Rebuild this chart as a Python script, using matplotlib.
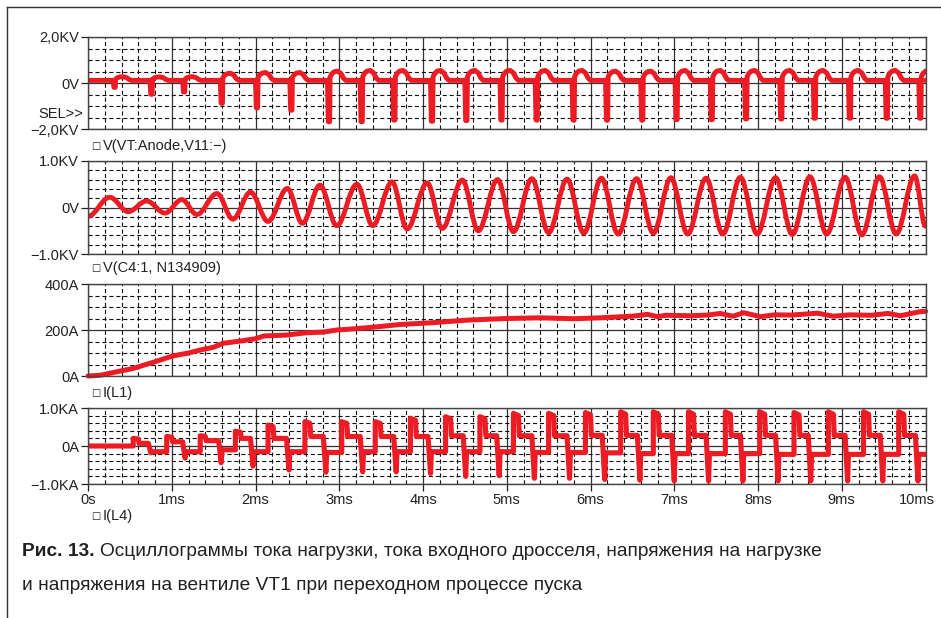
import numpy as np
import matplotlib.pyplot as plt
import matplotlib.transforms as mtransforms
from matplotlib.path import Path
from matplotlib.patches import PathPatch
from matplotlib.lines import Line2D

plt.rcParams['font.family'] = ['Liberation Sans', 'DejaVu Sans']
plt.rcParams['lines.scale_dashes'] = False

RED = '#ED1C24'
W, H = 941, 618

# time axis (ms)
ms_ticks = list(range(0, 11))
ms_labels = ['0s'] + ['%dms' % i for i in range(1, 11)]

# V(VT:Anode,V11:-) : spike times, spike depth, hump peak (KV)
spike_t = [0.30, 0.74, 1.13, 1.58, 2.00, 2.41, 2.86, 3.25, 3.64, 4.09, 4.50, 4.92,
           5.34, 5.78, 6.18, 6.60, 7.01, 7.43, 7.84, 8.26, 8.66, 9.08, 9.52, 9.92]
spike_v = [-0.18, -0.48, -0.38, -0.87, -1.07, -1.17, -1.67, -1.67, -1.6, -1.65, -1.62, -1.6,
           -1.6, -1.6, -1.6, -1.6, -1.58, -1.58, -1.55, -1.55, -1.52, -1.52, -1.52, -1.52]
hump_v = [0.28, 0.27, 0.28, 0.43, 0.46, 0.46, 0.52, 0.55, 0.55, 0.55, 0.55, 0.55,
          0.55, 0.55, 0.52, 0.52, 0.55, 0.55, 0.55, 0.55, 0.55, 0.55, 0.55, 0.55]
anode_base = 0.12

# V(C4:1, N134909) : extrema (ms, KV)
osc_t = [0.0, 0.26, 0.48, 0.70, 0.92, 1.12, 1.30, 1.54, 1.73, 1.94, 2.15, 2.38, 2.56,
         2.77, 2.97, 3.21, 3.40, 3.63, 3.81, 4.05, 4.23, 4.47, 4.66, 4.89, 5.08, 5.30,
         5.50, 5.72, 5.92, 6.13, 6.33, 6.55, 6.75, 6.96, 7.16, 7.38, 7.58, 7.79, 7.99,
         8.21, 8.41, 8.62, 8.82, 9.04, 9.24, 9.45, 9.65, 9.87, 10.0]
osc_v = [-0.19, 0.22, -0.09, 0.14, -0.12, 0.17, -0.15, 0.30, -0.25, 0.33, -0.30, 0.41, -0.34,
         0.48, -0.39, 0.50, -0.39, 0.55, -0.46, 0.53, -0.45, 0.59, -0.50, 0.60, -0.52, 0.62,
         -0.54, 0.61, -0.55, 0.63, -0.57, 0.62, -0.55, 0.64, -0.57, 0.63, -0.57, 0.65, -0.57,
         0.64, -0.58, 0.66, -0.57, 0.65, -0.59, 0.66, -0.57, 0.68, -0.40]

# I(L1) (ms, A)
il1_t = [0, 0.14, 0.3, 0.54, 0.8, 1.01, 1.2, 1.34, 1.5, 1.61, 1.82, 2.0, 2.1, 2.37, 2.61,
         2.81, 2.97, 3.1, 3.4, 3.73, 4.12, 4.53, 5.0, 5.4, 5.8, 6.12, 6.5, 6.68, 6.8, 6.9,
         7.2, 7.4, 7.55, 7.7, 7.83, 8.03, 8.2, 8.4, 8.71, 8.9, 9.1, 9.35, 9.55, 9.7, 9.94, 10.0]
il1_v = [0, 3, 15, 33, 62, 87, 100, 113, 125, 142, 152, 162, 174, 178, 188,
         191, 200, 203, 212, 224, 232, 243, 250, 253, 249, 253, 260, 268, 258, 264,
         262, 265, 272, 260, 275, 258, 266, 265, 273, 260, 266, 264, 272, 262, 280, 281]

# I(L4) : per cycle (ms, KA)
up_t = [0.54, 0.94, 1.34, 1.76, 2.15, 2.59, 3.03, 3.43, 3.85, 4.27, 4.68, 5.08,
        5.50, 5.94, 6.36, 6.75, 7.17, 7.61, 8.02, 8.43, 8.84, 9.26, 9.68]
down_t = [0.72, 1.13, 1.56, 1.94, 2.37, 2.81, 3.25, 3.65, 4.06, 4.48, 4.88, 5.30,
          5.72, 6.14, 6.56, 6.97, 7.38, 7.79, 8.21, 8.60, 9.04, 9.46, 9.88]
up_v = [0.2, 0.25, 0.27, 0.39, 0.55, 0.64, 0.64, 0.64, 0.73, 0.77, 0.77, 0.86,
        0.86, 0.88, 0.9, 0.9, 0.9, 0.9, 0.9, 0.88, 0.9, 0.9, 0.9]
high_v = [0.07, 0.11, 0.14, 0.2, 0.2, 0.25, 0.25, 0.25, 0.25, 0.27, 0.27, 0.27,
          0.27, 0.28, 0.28, 0.28, 0.28, 0.28, 0.28, 0.28, 0.28, 0.28, 0.28]
down_v = [-0.18, -0.32, -0.44, -0.53, -0.63, -0.69, -0.68, -0.68, -0.72, -0.8, -0.78, -0.85,
          -0.85, -0.88, -0.9, -0.92, -0.92, -0.92, -0.92, -0.92, -0.92, -0.92, -0.92]
low_v = [-0.15, -0.15, -0.1, -0.15, -0.15, -0.17, -0.15, -0.15, -0.15, -0.15, -0.15, -0.17,
         -0.17, -0.18, -0.2, -0.2, -0.2, -0.2, -0.22, -0.22, -0.22, -0.22, -0.22]

trace_names = ['V(VT:Anode,V11:\u2212)', 'V(C4:1, N134909)', 'I(L1)', 'I(L4)']


def px(x, y):
    return x / W, 1 - y / H


def make_ax(top, bottom, ylim, yticks, ylabels, yminor):
    l, b = px(88, bottom)
    ax = fig.add_axes([l, b, (925.5 - 88) / W, (bottom - top) / H])
    ax.set_xlim(0, 10)
    ax.set_ylim(*ylim)
    ax.set_xticks(ms_ticks)
    ax.set_xticks(np.arange(0, 10.01, 0.2), minor=True)
    ax.set_yticks(yticks)
    ax.set_yticklabels(ylabels)
    ax.set_yticks(yminor, minor=True)
    ax.grid(which='major', color='#333333', lw=0.9, ls='-')
    ax.grid(which='minor', color='#111111', lw=0.8, ls=(0, (3, 2)))
    ax.tick_params(which='minor', length=0)
    ax.tick_params(axis='y', which='major', length=5, width=0.9, pad=1.5,
                   labelsize=10.5, colors='#222222')
    ax.tick_params(axis='x', which='major', length=0, labelbottom=False)
    for s in ax.spines.values():
        s.set_color('#444444')
        s.set_linewidth(1.0)
    ax.set_axisbelow(True)
    return ax


fig = plt.figure(figsize=(W / 100, H / 100), dpi=100)

# panel 1
ax1 = make_ax(37, 129.3, (-2, 2), [-2, 0, 2], ['\u22122,0KV', '0V', '2,0KV'],
              np.arange(-2, 2.01, 0.5))
offs = [0.03, 0.05, 0.08, 0.12, 0.16, 0.19, 0.22]
frac = [0.35, 0.7, 0.93, 1.0, 0.75, 0.25, 0.0]
xs, ys = [0.0], [anode_base]
for ts, dv, hv in zip(spike_t, spike_v, hump_v):
    xs += [ts, ts + 0.01, ts + 0.025]
    ys += [anode_base, dv, dv]
    for o, f in zip(offs, frac):
        xs.append(ts + o)
        ys.append(anode_base + f * (hv - anode_base))
xs.append(10.0)
ys.append(anode_base)
ax1.plot(xs, ys, color=RED, lw=3.6, solid_joinstyle='round', solid_capstyle='round')

# panel 2
ax2 = make_ax(161, 254, (-1, 1), [-1, 0, 1], ['\u22121.0KV', '0V', '1.0KV'],
              np.arange(-1, 1.01, 0.2))
verts = [(osc_t[0], osc_v[0])]
codes = [Path.MOVETO]
for i in range(1, len(osc_t)):
    t0, v0, t1, v1 = osc_t[i - 1], osc_v[i - 1], osc_t[i], osc_v[i]
    dt = t1 - t0
    verts += [(t0 + 0.36 * dt, v0), (t1 - 0.36 * dt, v1), (t1, v1)]
    codes += [Path.CURVE4] * 3
ax2.add_patch(PathPatch(Path(verts, codes), fill=False, edgecolor=RED, lw=3.5,
                        joinstyle='round', capstyle='round'))

# panel 3
ax3 = make_ax(284, 376, (0, 400), [0, 200, 400], ['0A', '200A', '400A'],
              np.arange(0, 401, 50))
ax3.plot(il1_t, il1_v, color=RED, lw=3.6, solid_joinstyle='round',
         solid_capstyle='round', clip_on=False)

# panel 4
ax4 = make_ax(408, 484, (-1, 1), [-1, 0, 1], ['\u22121.0KA', '0A', '1.0KA'],
              np.arange(-1, 1.01, 0.2))
xs, ys = [0.0], [0.0]
prev_low = 0.0
for u, d, uv, hv, dv, lv in zip(up_t, down_t, up_v, high_v, down_v, low_v):
    xs += [u, u, u + 0.06, u + 0.07, d, d + 0.03, d + 0.04]
    ys += [prev_low, uv, uv * 0.93, hv, hv, dv, lv]
    prev_low = lv
xs.append(10.0)
ys.append(prev_low)
ax4.plot(xs, ys, color=RED, lw=3.7, solid_joinstyle='round', solid_capstyle='round')
ax4.tick_params(axis='x', which='major', length=5, width=0.9, pad=1.5,
                labelbottom=True, labelsize=10.5, colors='#222222')
ax4.set_xticklabels(ms_labels)
last = ax4.get_xticklabels()[-1]
last.set_transform(last.get_transform() +
                   mtransforms.ScaledTranslation(-0.09, 0, fig.dpi_scale_trans))

# SEL>> marker and trace names
fig.text(*px(83, 114), 'SEL>>', ha='right', va='center', fontsize=10.5, color='#222222')
for name, y in zip(trace_names, [146, 268, 393, 516]):
    fig.text(*px(91, y), '\u25a1', ha='left', va='center', fontsize=7,
             family='DejaVu Sans', color='#222222')
    fig.text(*px(103, y), name, ha='left', va='center', fontsize=10.5, color='#222222')

# frame
fig.add_artist(Line2D([7 / W, 1], [1 - 7 / H] * 2, color='#333333', lw=1.0))
fig.add_artist(Line2D([7 / W] * 2, [0, 1 - 7 / H], color='#333333', lw=1.0))

# caption
cap_font = ['Liberation Sans', 'DejaVu Sans']
t1 = fig.text(*px(22, 552), 'Рис. 13.', ha='left', va='center', fontsize=13.8,
              weight='bold', family=cap_font, color='#231F20')
r = fig.canvas.get_renderer()
bb = t1.get_window_extent(r)
fig.text(bb.x1 / W + 5 / W, 1 - 552 / H,
         'Осциллограммы тока нагрузки, тока входного дросселя, напряжения на нагрузке',
         ha='left', va='center', fontsize=13.8, family=cap_font, color='#231F20')
fig.text(*px(22, 585), 'и напряжения на вентиле VT1 при переходном процессе пуска',
         ha='left', va='center', fontsize=13.8, family=cap_font, color='#231F20')

fig.savefig('out.png', dpi=100)
